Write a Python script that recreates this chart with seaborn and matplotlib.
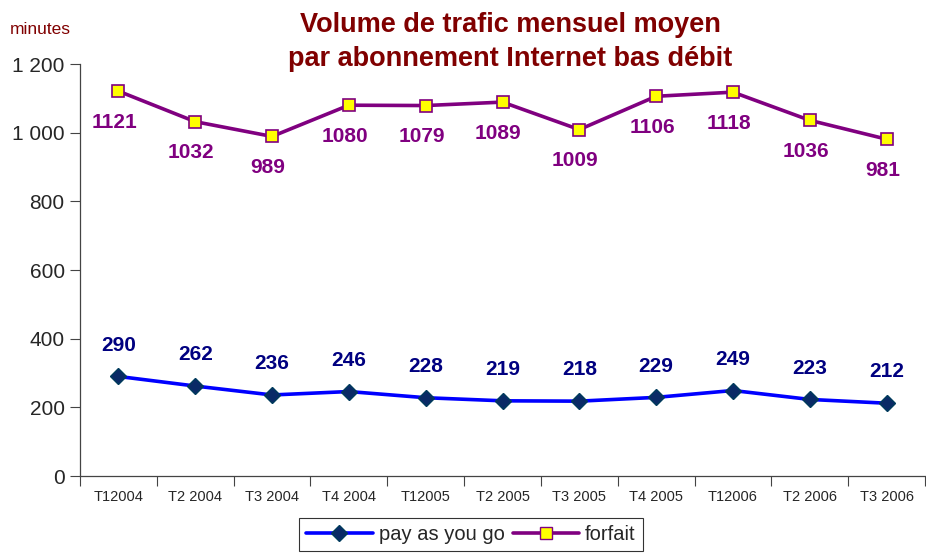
import pandas as pd
import seaborn as sns
import matplotlib.pyplot as plt
from matplotlib.lines import Line2D

periods = ["T12004", "T2 2004", "T3 2004", "T4 2004", "T12005", "T2 2005",
           "T3 2005", "T4 2005", "T12006", "T2 2006", "T3 2006"]
pay_as_you_go = [290, 262, 236, 246, 228, 219, 218, 229, 249, 223, 212]
forfait = [1121, 1032, 989, 1080, 1079, 1089, 1009, 1106, 1118, 1036, 981]
y_ticks = [0, 200, 400, 600, 800, 1000, 1200]
y_tick_labels = ["0", "200", "400", "600", "800", "1 000", "1 200"]

sns.set_style('ticks')
plt.rcParams['font.family'] = ['Liberation Sans', 'DejaVu Sans']

df = pd.DataFrame({"period": periods, "pay": pay_as_you_go, "forfait": forfait})
df["pos"] = range(len(df))

fig = plt.figure(figsize=(9.26, 5.56), dpi=100)
ax = fig.add_axes([80 / 926, 80 / 556, 845 / 926, 412 / 556])

sns.lineplot(x="pos", y="pay", data=df, ax=ax, color="#0000ff", lw=2.6,
             marker="D", markersize=8, markerfacecolor="#0a2a66",
             markeredgecolor="#003b5c", markeredgewidth=1)
sns.lineplot(x="pos", y="forfait", data=df, ax=ax, color="#800080", lw=2.6,
             marker="s", markersize=8.5, markerfacecolor="#ffff00",
             markeredgecolor="#800080", markeredgewidth=1.2)

# data labels
for i, v in enumerate(pay_as_you_go):
    ax.annotate(str(v), (i, v), xytext=(0, 22.5), textcoords="offset points",
                ha="center", va="center", fontsize=15, fontweight="bold", color="#000080")
for i, v in enumerate(forfait):
    ax.annotate(str(v), (i, v), xytext=(-3, -22.5), textcoords="offset points",
                ha="center", va="center", fontsize=15, fontweight="bold", color="#800080")

ax.set_xlim(-0.5, len(periods) - 0.5)
ax.set_ylim(0, 1200)
ax.set_yticks(y_ticks)
ax.set_yticklabels(y_tick_labels, fontsize=15)
ax.set_xticks(range(len(periods)))
ax.set_xticklabels(periods, fontsize=10.5)
ax.set_xticks([i - 0.5 for i in range(len(periods) + 1)], minor=True)
ax.tick_params(axis="x", which="major", length=0, pad=10)
ax.tick_params(axis="x", which="minor", length=7, width=0.8, color="#444444")
ax.tick_params(axis="y", length=7, width=0.8, color="#444444", pad=4)
ax.set_xlabel("")
ax.set_ylabel("")
for side in ["top", "right"]:
    ax.spines[side].set_visible(False)
for side in ["left", "bottom"]:
    ax.spines[side].set_color("#444444")
    ax.spines[side].set_linewidth(0.9)

fig.text(510 / 926, 1 - 42 / 556, "Volume de trafic mensuel moyen\npar abonnement Internet bas débit",
         ha="center", va="center", fontsize=19.5, fontweight="bold", color="#800000",
         linespacing=1.45)
fig.text(10 / 926, 1 - 30 / 556, "minutes", ha="left", va="center", fontsize=12.5, color="#800000")

handles = [
    Line2D([], [], color="#0000ff", lw=2.6, marker="D", markersize=8,
           markerfacecolor="#0a2a66", markeredgecolor="#003b5c"),
    Line2D([], [], color="#800080", lw=2.6, marker="s", markersize=8.5,
           markerfacecolor="#ffff00", markeredgecolor="#800080"),
]
leg = fig.legend(handles, ["pay as you go", "forfait"], loc="upper center",
                 bbox_to_anchor=(471 / 926, 1 - 518 / 556), ncol=2, fontsize=14.5,
                 frameon=True, fancybox=False, handlelength=3.3, handletextpad=0.3,
                 columnspacing=0.4, borderpad=0.35, borderaxespad=0)
leg.get_frame().set_edgecolor("#000000")
leg.get_frame().set_linewidth(0.8)

plt.savefig("out.png", dpi=100)
